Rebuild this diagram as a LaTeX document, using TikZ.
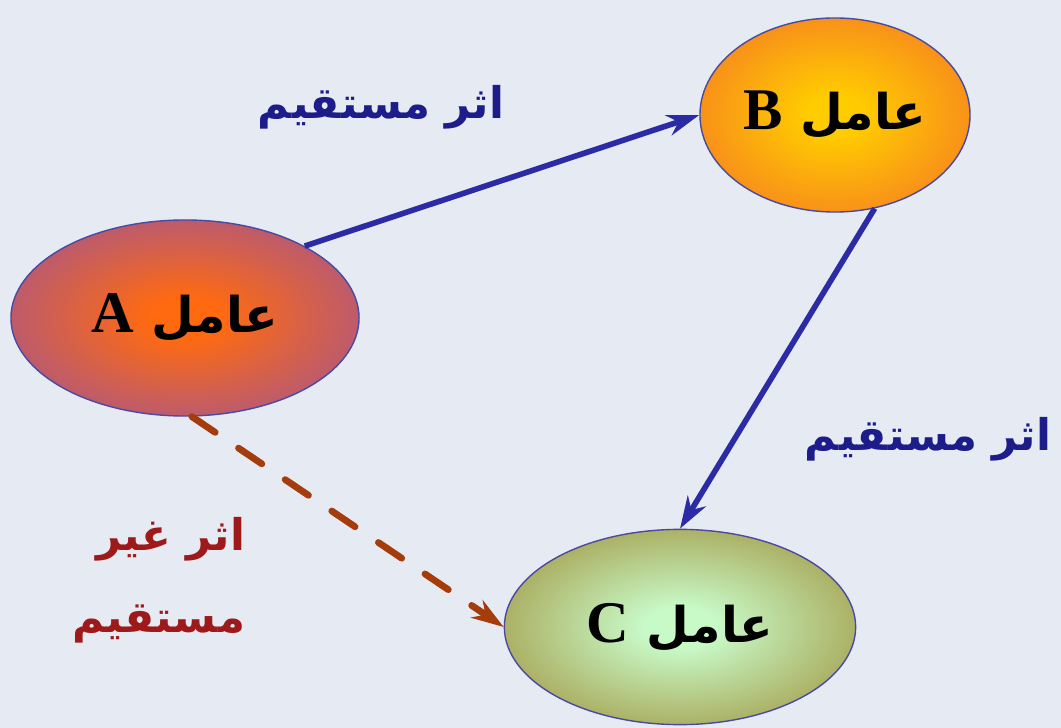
\documentclass[tikz,border=0pt]{standalone}
\usepackage{fontspec}
\usepackage{tikz}
\usetikzlibrary{arrows.meta}
\usetikzlibrary{shapes}
\usetikzlibrary{positioning}
\TeXXeTstate=1
\newfontfamily\arabicfont[Script=Arabic]{DejaVu Sans}
\newfontfamily\latinfont{Liberation Serif}

\definecolor{bgcol}{HTML}{E6EAF2}
\definecolor{rim}{HTML}{4A4AA0}
\definecolor{arrowblue}{HTML}{2B2BA6}
\definecolor{arrowbrown}{HTML}{A43C0C}
\definecolor{labelblue}{HTML}{1C1C8A}
\definecolor{labelbrown}{HTML}{9E1A1A}
\definecolor{aIn}{HTML}{FF6A10}
\definecolor{aOut}{HTML}{B0587E}
\definecolor{bIn}{HTML}{FFCC00}
\definecolor{bOut}{HTML}{F7861E}
\definecolor{cIn}{HTML}{C8FAC8}
\definecolor{cOut}{HTML}{A6A352}

\pgfdeclareradialshading{glowA}{\pgfpointorigin}{color(0bp)=(aIn); color(5bp)=(aIn); color(29bp)=(aOut); color(50bp)=(aOut)}
\pgfdeclareradialshading{glowB}{\pgfpointorigin}{color(0bp)=(bIn); color(5bp)=(bIn); color(29bp)=(bOut); color(50bp)=(bOut)}
\pgfdeclareradialshading{glowC}{\pgfpointorigin}{color(0bp)=(cIn); color(5bp)=(cIn); color(29bp)=(cOut); color(50bp)=(cOut)}

\newcommand{\amellabel}[1]{\arabicfont\bfseries\fontsize{35}{38}\selectfont\beginR عامل {\latinfont\bfseries\fontsize{42}{44}\selectfont #1}\endR}

\begin{document}
\begin{tikzpicture}[x=0.025cm,y=-0.025cm]
        \fill[bgcol] (0,0) rectangle (1061,728);
        \useasboundingbox (0,0) rectangle (1061,728);
        \begin{scope}[every node/.style={ellipse,draw=rim,line width=1pt,inner sep=0pt}]
            \node[shading=glowA,minimum width=8.7cm,minimum height=4.9cm] (1) at (185,318) {\amellabel{A}};
            \node[shading=glowB,minimum width=6.75cm,minimum height=4.85cm] (2) at (835,115) {\amellabel{B}};
            \node[shading=glowC,minimum width=8.78cm,minimum height=4.88cm] (3) at (680,627) {\amellabel{C}};
        \end{scope}
        \begin{scope}[font=\arabicfont\bfseries\fontsize{31}{58}\selectfont]
            \node[text=labelblue] (4) at (381,107) {\beginR اثر مستقیم\endR};
            \node[text=labelblue] (5) at (928,439) {\beginR اثر مستقیم\endR};
            \node[text=labelbrown,align=right,anchor=east] (6) at (250,580) {\beginR اثر غیر\endR\\\beginR مستقیم\endR};
        \end{scope}
        \begin{scope}[>={Stealth[length=23pt,width=15pt]},
            every edge/.style={draw=arrowblue,line width=4pt}]
            \path [->] (1.31) edge (2.west);
            \path [->] (2.-67) edge (3.north);
            \path [->,every edge/.style={draw=arrowbrown,line width=4.8pt,dash pattern=on 20pt off 20pt,line cap=round}] (1.-86) edge (3.west);
        \end{scope}
    \end{tikzpicture}
\end{document}
